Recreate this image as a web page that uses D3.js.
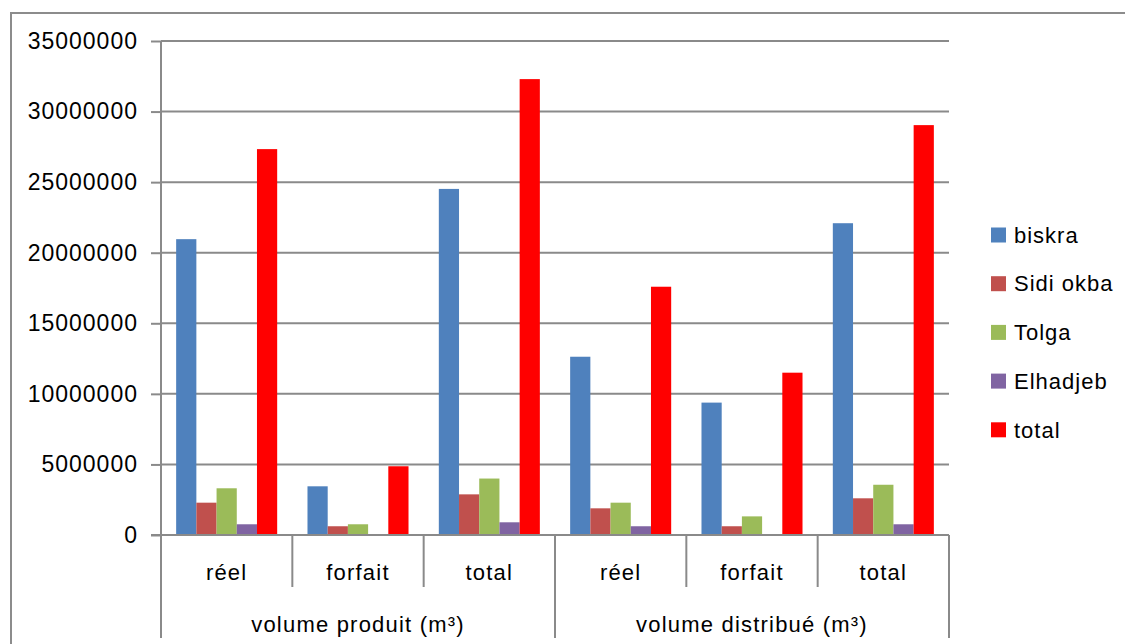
<!DOCTYPE html>
<html>
<head>
<meta charset="utf-8">
<script src="https://cdn.jsdelivr.net/npm/d3@7/dist/d3.min.js"></script>
<style>
  html, body { margin: 0; padding: 0; background: #fff; }
  svg { display: block; }
  text { font-family: "Liberation Sans", Arial, sans-serif; fill: #000; }
</style>
</head>
<body>
<svg id="chart" width="1125" height="644"></svg>
<script>
// Water volumes by type (m³)
const groups = ["volume produit (m³)", "volume distribué (m³)"];
const subCategories = ["réel", "forfait", "total"];
const seriesNames = ["biskra", "Sidi okba", "Tolga", "Elhadjeb", "total"];
const seriesColors = ["#4F81BD", "#C0504D", "#9BBB59", "#8064A2", "#FF0000"];

const biskra   = [20960000, 3450000, 24520000, 12630000, 9380000, 22090000];
const sidiOkba = [2290000, 620000, 2880000, 1890000, 620000, 2600000];
const tolga    = [3310000, 760000, 4000000, 2290000, 1320000, 3560000];
const elhadjeb = [760000, 0, 900000, 620000, 0, 760000];
const total    = [27340000, 4870000, 32300000, 17590000, 11500000, 29040000];

const yTicks = [0, 5000000, 10000000, 15000000, 20000000, 25000000, 30000000, 35000000];

const seriesValues = [biskra, sidiOkba, tolga, elhadjeb, total];

// Flat list of category keys: group index + sub category
const categories = [];
groups.forEach((g, gi) => subCategories.forEach((s, si) => categories.push({ key: gi + "-" + si, label: s, group: gi })));

const svg = d3.select("#chart");

// Outer frame
svg.append("rect")
  .attr("x", 11).attr("y", 13)
  .attr("width", 1125).attr("height", 700)
  .attr("fill", "none").attr("stroke", "#8c8c8c").attr("stroke-width", 2);

const plot = { left: 161, right: 949, top: 41, bottom: 535 };

const x = d3.scaleBand()
  .domain(categories.map(d => d.key))
  .range([plot.left, plot.right])
  .paddingInner(0).paddingOuter(0);

const xInner = d3.scaleBand()
  .domain(seriesNames)
  .range([0, x.bandwidth()])
  .paddingInner(0).paddingOuter(0.75);

const y = d3.scaleLinear()
  .domain([0, 35000000])
  .range([plot.bottom, plot.top]);

const gridColor = "#8a8a8a";

// Gridlines + y axis
const yAxis = d3.axisLeft(y).tickValues(yTicks).tickFormat(d3.format("d")).tickSize(10).tickPadding(13);
const gy = svg.append("g").attr("transform", `translate(${plot.left},0)`).call(yAxis);
gy.select(".domain").remove();
gy.selectAll(".tick line").attr("stroke", gridColor).attr("stroke-width", 2);
gy.selectAll(".tick text")
  .style("font-size", "23px")
  .style("letter-spacing", "1px")
  .attr("font-family", null);

svg.append("g").selectAll("line")
  .data(yTicks.filter(d => d > 0))
  .join("line")
  .attr("x1", plot.left).attr("x2", plot.right)
  .attr("y1", d => y(d)).attr("y2", d => y(d))
  .attr("stroke", gridColor).attr("stroke-width", 2);

// Bars
const barData = [];
categories.forEach((c, ci) => {
  seriesNames.forEach((s, si) => {
    barData.push({ cat: c.key, series: s, value: seriesValues[si][ci], color: seriesColors[si] });
  });
});

svg.append("g").selectAll("rect")
  .data(barData)
  .join("rect")
  .attr("x", d => x(d.cat) + xInner(d.series))
  .attr("y", d => y(d.value))
  .attr("width", xInner.bandwidth())
  .attr("height", d => y(0) - y(d.value))
  .attr("fill", d => d.color);

// Baseline and vertical axis
svg.append("line")
  .attr("x1", plot.left - 10).attr("x2", plot.right)
  .attr("y1", y(0)).attr("y2", y(0))
  .attr("stroke", gridColor).attr("stroke-width", 2);
svg.append("line")
  .attr("x1", plot.left).attr("x2", plot.left)
  .attr("y1", plot.top).attr("y2", 638)
  .attr("stroke", gridColor).attr("stroke-width", 2);

// Category separators (short) and group separators (long)
categories.forEach((c, ci) => {
  if (ci === 0) return;
  const xs = x(c.key);
  const isGroupEdge = ci % subCategories.length === 0;
  svg.append("line")
    .attr("x1", xs).attr("x2", xs)
    .attr("y1", y(0)).attr("y2", isGroupEdge ? 638 : 587)
    .attr("stroke", gridColor).attr("stroke-width", 2);
});
svg.append("line")
  .attr("x1", plot.right).attr("x2", plot.right)
  .attr("y1", y(0)).attr("y2", 638)
  .attr("stroke", gridColor).attr("stroke-width", 2);

// Category labels
svg.append("g").selectAll("text")
  .data(categories)
  .join("text")
  .attr("x", d => x(d.key) + x.bandwidth() / 2)
  .attr("y", 580)
  .attr("text-anchor", "middle")
  .style("font-size", "22px")
  .style("letter-spacing", "1.2px")
  .text(d => d.label);

// Group labels
svg.append("g").selectAll("text")
  .data(groups)
  .join("text")
  .attr("x", (d, i) => {
    const first = x(i + "-0");
    const last = x(i + "-" + (subCategories.length - 1)) + x.bandwidth();
    return (first + last) / 2;
  })
  .attr("y", 632)
  .attr("text-anchor", "middle")
  .style("font-size", "22px")
  .style("letter-spacing", "1.2px")
  .text(d => d);

// Legend
const legend = svg.append("g").selectAll("g")
  .data(seriesNames)
  .join("g")
  .attr("transform", (d, i) => `translate(991, ${235 + i * 48.7})`);
legend.append("rect")
  .attr("x", 0).attr("y", -7.5)
  .attr("width", 15).attr("height", 15)
  .attr("fill", (d, i) => seriesColors[i]);
legend.append("text")
  .attr("x", 23).attr("y", 0)
  .attr("dy", "0.35em")
  .style("font-size", "22px")
  .style("letter-spacing", "1px")
  .text(d => d);
</script>
</body>
</html>
